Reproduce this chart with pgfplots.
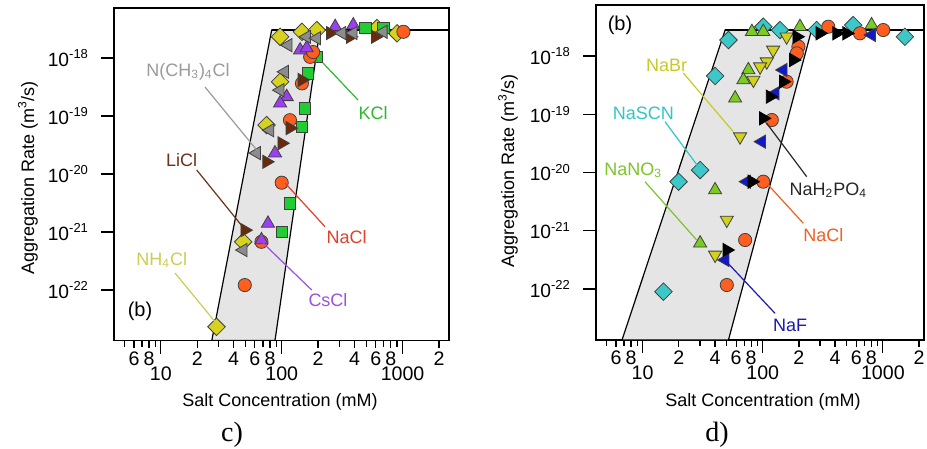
\documentclass[border=0pt]{standalone}
\usepackage{pgfplots}
\pgfplotsset{compat=1.18}
\usepackage{fontspec}
\setmainfont{Liberation Sans}
\newfontfamily\seriffont{Liberation Serif}
\definecolor{cNH}{HTML}{D6D21E}
\definecolor{cTM}{HTML}{8C8C8C}
\definecolor{cLi}{HTML}{6A2A0C}
\definecolor{cCs}{HTML}{9B3FEF}
\definecolor{cNa}{HTML}{FF5E1F}
\definecolor{cK}{HTML}{22CC33}
\definecolor{cSCN}{HTML}{3CC8C8}
\definecolor{cNO}{HTML}{7ACC22}
\definecolor{cBr}{HTML}{D2D21E}
\definecolor{cF}{HTML}{1018C8}
\definecolor{tNH}{HTML}{CCCC55}
\definecolor{tTM}{HTML}{9A9A9A}
\definecolor{tK}{HTML}{2DB82D}
\definecolor{tLi}{HTML}{6E3018}
\definecolor{tNa}{HTML}{E0402A}
\definecolor{tCs}{HTML}{9A50E0}
\definecolor{tBr}{HTML}{C8C828}
\definecolor{tSCN}{HTML}{33C4C4}
\definecolor{tNO}{HTML}{7DC42A}
\definecolor{tNa2}{HTML}{F06020}
\definecolor{tF}{HTML}{1A1AB0}
\newcommand{\expo}[1]{\textsuperscript{\fontsize{6.5}{7}\selectfont #1}}
\pgfplotsset{
 cpanel/.style={
  scale only axis,
  axis line style={line width=0.6pt},
  tick align=outside, xtick pos=left, ytick pos=left,
  major tick length=6.5pt, minor tick length=3pt,
  every tick/.style={black, line width=0.6pt},
  xtick={10,100,1000}, xticklabels={10,100,1000},
  minor xtick={5,6,7,8,9,20,30,40,50,60,70,80,90,200,300,400,500,600,700,800,900,2000},
  extra x ticks={6,8,20,40,60,80,200,400,600,800,2000},
  extra x tick labels={6,8,2,4,6,8,2,4,6,8,2},
  extra x tick style={major tick length=3.5pt, tick label style={font=\fontsize{6}{7}\selectfont, yshift=4.5pt}},
  ytick={1e-22,1e-21,1e-20,1e-19,1e-18},
  yticklabels={10\expo{-22},10\expo{-21},10\expo{-20},10\expo{-19},10\expo{-18}},
  yminorticks=false,
  xticklabel style={font=\fontsize{9.8}{11}\selectfont, anchor=north, yshift=-3pt},
  yticklabel style={font=\fontsize{9.6}{11}\selectfont, xshift=-2.5pt},
 },
}
\begin{document}
\begin{tikzpicture}
\path[use as bounding box] (0,0) rectangle (463.5pt,-224.5pt);
% ---------- left panel c) ----------
\begin{loglogaxis}[cpanel, at={(57pt,-4pt)}, anchor=north west, width=167.5pt, height=166.25pt,
  xmin=4.1, xmax=2420, ymin=1.35e-23, ymax=7.3e-18]
\addplot[fill=black!10, draw=black, line width=0.6pt] coordinates {(26.4,1.35e-23) (82.6,3.04e-18) (207,3.04e-18) (88,1.35e-23) (26.4,1.35e-23)};
\addplot[black, line width=0.6pt] coordinates {(82.6,3.04e-18) (2420,3.04e-18)};
% NH4Cl
\addplot[only marks, mark=square*, mark size=3.1pt, mark options={rotate=45, fill=cNH, draw=black!75, line width=0.4pt}] coordinates {(97,2.33e-18) (147,2.84e-18) (195,3.04e-18) (614,3.29e-18) (900,2.67e-18) (97,3.9e-19) (75,7.0e-20) (48,6.8e-22) (28.9,2.33e-23)};
% KCl
\addplot[only marks, mark=square*, mark size=2.9pt, mark options={fill=cK, draw=black!75, line width=0.4pt}] coordinates {(195,1.05e-18) (491,3.3e-18) (693,3.3e-18) (165,5.5e-19) (156,1.37e-19) (147,6.5e-20) (117,3.1e-21) (100,1.01e-21)};
% NaCl
\addplot[only marks, mark=*, mark size=3.3pt, mark options={fill=cNa, draw=black!75, line width=0.4pt}] coordinates {(172,1.05e-18) (182,1.27e-18) (1016,2.84e-18) (147,3.66e-19) (117,8.5e-20) (100,7.1e-21) (68,6.8e-22) (49.5,1.22e-22)};
% CsCl
\addplot[only marks, mark=triangle*, mark size=3.8pt, mark options={fill=cCs, draw=black!75, line width=0.4pt}] coordinates {(142,1.37e-18) (161,1.49e-18) (277,3.47e-18) (391,3.7e-18) (110,2.15e-19) (97,1.67e-19) (88,2.3e-20) (77,1.41e-21) (68,7.3e-22)};
% LiCl
\addplot[only marks, mark=triangle*, mark size=3.8pt, mark options={rotate=-90, fill=cLi, draw=black!75, line width=0.4pt}] coordinates {(252,2.7e-18) (369,2.33e-18) (594,2.33e-18) (147,4.2e-19) (117,6.2e-20) (100,3.4e-20) (75,1.63e-20) (49.5,1.08e-21)};
% N(CH3)4Cl
\addplot[only marks, mark=triangle*, mark size=3.8pt, mark options={rotate=90, fill=cTM, draw=black!75, line width=0.4pt}] coordinates {(113,1.67e-18) (161,2.33e-18) (195,2.2e-18) (315,2.7e-18) (391,2.7e-18) (693,2.84e-18) (106,5.8e-19) (97,2.8e-19) (80,5.7e-20) (62,2.3e-20) (48,4.9e-22)};
\end{loglogaxis}
% ---------- right panel d) ----------
\begin{loglogaxis}[cpanel, at={(298pt,-2.5pt)}, anchor=north west, width=164pt, height=167.5pt,
  xmin=4.09, xmax=2200, ymin=1.33e-23, ymax=7.5e-18]
\addplot[fill=black!10, draw=black, line width=0.6pt] coordinates {(6.73,1.33e-23) (48.6,2.79e-18) (255,2.79e-18) (51.8,1.33e-23) (6.73,1.33e-23)};
\addplot[black, line width=0.6pt] coordinates {(48.6,2.79e-18) (2200,2.79e-18)};
% NaSCN
\addplot[only marks, mark=square*, mark size=3.1pt, mark options={rotate=45, fill=cSCN, draw=black!75, line width=0.4pt}] coordinates {(51.8,1.88e-18) (40.1,4.54e-19) (30.1,1.10e-20) (19.9,6.95e-21) (14.9,9.0e-23) (101,3.18e-18) (139,2.79e-18) (281,2.79e-18) (566,3.4e-18) (1524,2.14e-18)};
% NaNO3
\addplot[only marks, mark=triangle*, mark size=3.8pt, mark options={fill=cNO, draw=black!75, line width=0.4pt}] coordinates {(81.2,2.61e-18) (101,2.61e-18) (204,3.18e-18) (805,3.4e-18) (75.9,5.75e-19) (69,3.87e-19) (58.9,1.88e-19) (40.1,5.0e-21) (30.1,6.1e-22)};
% NaBr
\addplot[only marks, mark=triangle*, mark size=3.8pt, mark options={rotate=180, fill=cBr, draw=black!75, line width=0.4pt}] coordinates {(158,2.14e-18) (122,1.27e-18) (108,7.98e-19) (95,6.55e-19) (83.6,3.87e-19) (64.7,4.12e-20) (50.2,1.53e-21) (40.1,3.84e-22)};
% NaCl
\addplot[only marks, mark=*, mark size=3.3pt, mark options={fill=cNa, draw=black!75, line width=0.4pt}] coordinates {(198,1.45e-18) (192,1.11e-18) (158,3.62e-19) (119,7.96e-20) (101,6.95e-21) (71.3,6.93e-22) (50.2,1.17e-22) (351,3.18e-18) (644,2.45e-18) (1007,2.79e-18)};
% NaF
\addplot[only marks, mark=triangle*, mark size=3.8pt, mark options={rotate=90, fill=cF, draw=black!75, line width=0.4pt}] coordinates {(148,5.75e-19) (127,2.29e-19) (98,3.38e-20) (73.6,6.95e-21) (48.6,3.15e-22) (805,2.3e-18)};
% NaH2PO4
\addplot[only marks, mark=triangle*, mark size=3.8pt, mark options={rotate=-90, fill=black, draw=black, line width=0.4pt}] coordinates {(180,8.54e-19) (148,3.62e-19) (115,2.0e-19) (101,8.5e-20) (81.2,6.95e-21) (50.2,4.67e-22) (192,2.14e-18) (299,2.45e-18) (412,2.45e-18) (499,2.45e-18)};
\end{loglogaxis}
% ---------- annotations (pixel units) ----------
\begin{scope}[x=0.5pt, y=-0.5pt, font=\fontsize{9}{10}\selectfont]
\node[rotate=90] at (28,178) {Aggregation Rate (m\textsuperscript{3}/s)};
\node[rotate=90] at (508,171) {Aggregation Rate (m\textsuperscript{3}/s)};
\node at (280,401.7) {Salt Concentration (mM)};
\node at (763,401.7) {Salt Concentration (mM)};
\node at (232,435) {\seriffont\fontsize{14}{16}\selectfont c)};
\node at (717,435) {\seriffont\fontsize{14}{16}\selectfont d)};
% left labels
\node at (140,311.7) {\fontsize{10}{12}\selectfont (b)};
\draw[tTM, line width=0.6pt] (205,87) -- (256.7,150);
\node[tTM] at (188,72) {N(CH\textsubscript{3})\textsubscript{4}Cl};
\draw[tK, line width=0.6pt] (323,63) -- (358,100);
\node[tK] at (373,113) {KCl};
\draw[tLi, line width=0.6pt] (196.7,170) -- (242,226);
\node[tLi] at (181.7,160) {LiCl};
\draw[tNa, line width=0.6pt] (285,183) -- (325,226.7);
\node[tNa] at (346.7,236.7) {NaCl};
\draw[tCs, line width=0.6pt] (263,243) -- (311.7,290);
\node[tCs] at (328,300) {CsCl};
\draw[tNH, line width=0.6pt] (175,273) -- (215,321.7);
\node[tNH] at (161.7,260) {NH\textsubscript{4}Cl};
% right labels
\node at (620,25) {\fontsize{10}{12}\selectfont (b)};
\draw[tBr, line width=0.6pt] (683.3,73) -- (733.3,131.7);
\node[tBr] at (666.7,65) {NaBr};
\draw[tSCN, line width=0.6pt] (665,121.7) -- (698.3,166.7);
\node[tSCN] at (643.3,113.3) {NaSCN};
\draw[tNO, line width=0.6pt] (645,181.7) -- (696.7,240);
\node[tNO] at (633.3,170) {NaNO\textsubscript{3}};
\draw[black!85, line width=0.6pt] (766.7,123.3) -- (806.7,176.7);
\node[black!85] at (828.3,190) {NaH\textsubscript{2}PO\textsubscript{4}};
\draw[tNa2, line width=0.6pt] (768.3,185) -- (803.3,223.3);
\node[tNa2] at (823.3,235) {NaCl};
\draw[tF, line width=0.6pt] (723.3,258.3) -- (775,313.3);
\node[tF] at (790,325) {NaF};
\end{scope}
\end{tikzpicture}
\end{document}
